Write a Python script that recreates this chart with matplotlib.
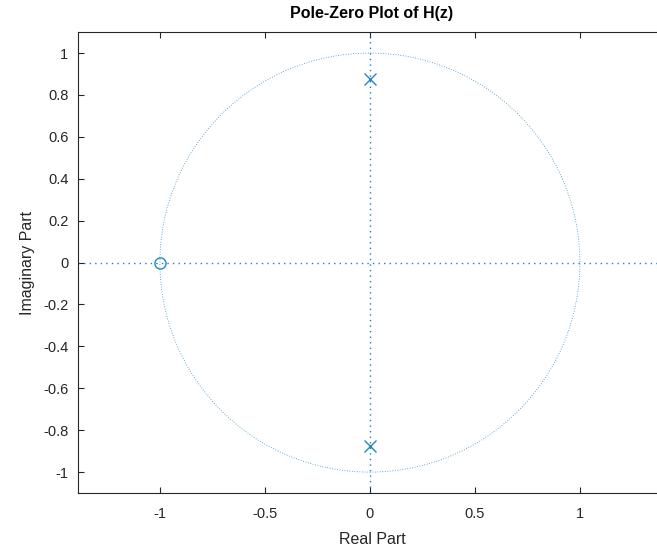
import numpy as np
import matplotlib.pyplot as plt
from matplotlib.patches import Circle

plt.rcParams['font.family'] = ['Liberation Sans', 'DejaVu Sans']

# zeros and poles of H(z)
zeros_re = [-1.0]
zeros_im = [0.0]
poles_re = [0.0, 0.0]
poles_im = [0.877, -0.877]

xticks = [-1, -0.5, 0, 0.5, 1]
yticks = [-1, -0.8, -0.6, -0.4, -0.2, 0, 0.2, 0.4, 0.6, 0.8, 1]

blue = '#0072BD'
dark = '#262626'

fig = plt.figure(figsize=(6.57, 5.54), dpi=100)
ax = fig.add_axes([0.1187, 0.110, 0.895, 0.832])

# unit circle
ax.add_patch(Circle((0, 0), 1, fill=False, edgecolor=blue, linestyle=(0, (1, 2)), linewidth=0.6, alpha=0.8))
# real / imaginary axes
ax.axhline(0, color=blue, linestyle=(0, (1, 3)), linewidth=1.0, alpha=0.9)
ax.axvline(0, color=blue, linestyle=(0, (1, 3)), linewidth=1.0, alpha=0.9)

ax.plot(zeros_re, zeros_im, 'o', markerfacecolor='none', markeredgecolor=blue, markersize=8, markeredgewidth=1.0, alpha=0.85)
ax.plot(poles_re, poles_im, 'x', color=blue, markersize=8, markeredgewidth=1.0, alpha=0.85)

ax.set_xlim(-1.39, 1.41)
ax.set_ylim(-1.1, 1.1)
ax.set_xticks(xticks)
ax.set_xticklabels(['-1', '-0.5', '0', '0.5', '1'])
ax.set_yticks(yticks)
ax.set_yticklabels(['-1', '-0.8', '-0.6', '-0.4', '-0.2', '0', '0.2', '0.4', '0.6', '0.8', '1'])

for s in ax.spines.values():
    s.set_color(dark)
    s.set_linewidth(0.8)
ax.tick_params(direction='in', top=True, right=True, length=4, width=0.8,
               colors=dark, labelsize=10.5, pad=7)
ax.tick_params(axis='x', pad=10)

ax.set_xlabel('Real Part', fontsize=11.5, color=dark, labelpad=8)
ax.set_ylabel('Imaginary Part', fontsize=11.5, color=dark, labelpad=6)
ax.set_title('Pole-Zero Plot of H(z)', fontsize=11.5, fontweight='bold', color='black', pad=10)

fig.savefig('out.png', dpi=100)
